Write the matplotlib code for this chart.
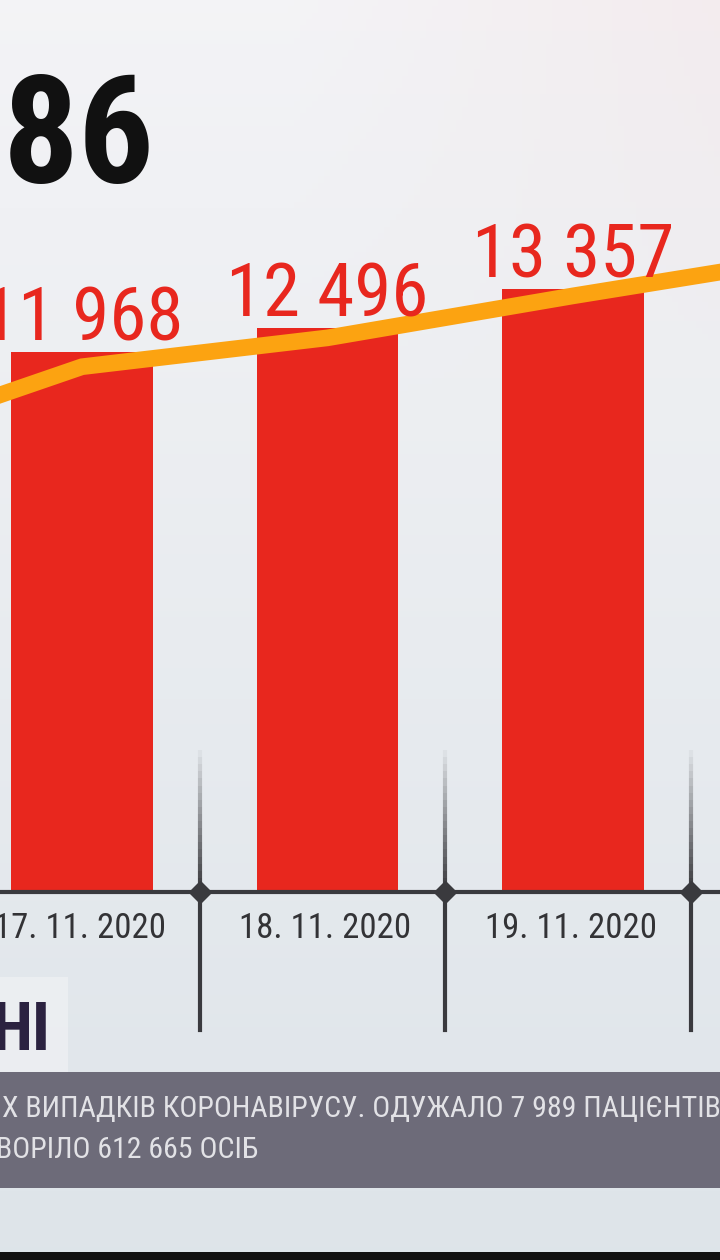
import numpy as np
import matplotlib.pyplot as plt
from matplotlib.patches import Rectangle

# Dados
dates = ['17. 11. 2020', '18. 11. 2020', '19. 11. 2020']
cases = [11968, 12496, 13357]
trend_pos = [-1, 0, 1, 2, 3]
trend = [9770, 11640, 12280, 13210, 14090]
headline = '86'
tag = 'НІ'
ticker1 = 'Х ВИПАДКІВ КОРОНАВІРУСУ. ОДУЖАЛО 7 989 ПАЦІЄНТІВ'
ticker2 = 'ВОРІЛО 612 665 ОСІБ'

cond = ['Roboto Condensed', 'Barlow Semi Condensed', 'DejaVu Sans']
red = '#e8271e'
orange = '#fca311'
dark = '#3a3a3e'

W, H = 720, 1260
fig = plt.figure(figsize=(7.2, 12.6), dpi=100)

# fundo (gradiente suave)
bg = fig.add_axes([0, 0, 1, 1], zorder=0)
gy = np.linspace(0, 1, 200)[:, None]
gx = np.linspace(0, 1, 120)[None, :]
top = np.array([0.955, 0.955, 0.965])
bot = np.array([0.87, 0.895, 0.915])
img = top[None, None, :] * (1 - gy[..., None]) + bot[None, None, :] * gy[..., None]
img = img * np.ones((1, 120, 1))
pink = np.clip((gx - 0.4) * 1.6, 0, 1) * np.clip(1 - gy * 3, 0, 1)
img[..., 1] -= 0.03 * pink
img[..., 2] -= 0.03 * pink
bg.imshow(np.clip(img, 0, 1), extent=[0, W, H, 0], aspect='auto')
bg.set_xlim(0, W)
bg.set_ylim(H, 0)
bg.axis('off')

# gráfico
ax = fig.add_axes([0, 0, 1, 1], zorder=1)
ax.patch.set_alpha(0)
px = 22.16  # casos por pixel
ax.set_xlim(-0.334, 2.599)
ax.set_ylim(-(H - 892) * px, 892 * px)
ax.axis('off')

x = np.arange(len(cases))
ax.bar(x, cases, width=0.578, color=red, zorder=2)
ax.plot(trend_pos, trend, color=orange, lw=12, solid_joinstyle='miter', zorder=3)
for xi, v in zip(x, cases):
    ax.text(xi, v + 11.5 * px, f'{v:,}'.replace(',', ' '), ha='center', va='baseline',
            fontsize=54, color=red, family=cond, zorder=4)
for xi, d in zip(x, dates):
    ax.text(xi - 0.01, -46 * px, d, ha='center', va='baseline', fontsize=25,
            color='#333336', family=cond)

# eixo e divisores
ax.axhline(0, color=dark, lw=3, zorder=2)
for xi in x + 0.48:
    ax.plot([xi, xi], [0, -138 * px], color=dark, lw=3, zorder=2)
    n = 20
    ys = np.linspace(142 * px, 0, n + 1)
    for k in range(n):
        ax.plot([xi, xi], [ys[k], ys[k + 1]], color=dark, lw=3,
                alpha=(k + 1) / n, solid_capstyle='butt', zorder=2)
    ax.plot(xi, 0, marker='D', ms=11, color=dark, zorder=3)

# sobreposições em pixels
ov = fig.add_axes([0, 0, 1, 1], zorder=3)
ov.patch.set_alpha(0)
ov.set_xlim(0, W)
ov.set_ylim(H, 0)
ov.axis('off')

ov.text(155, 183, headline, ha='right', va='baseline', fontsize=108,
        fontweight='bold', color='#111111', family=cond)
ov.add_patch(Rectangle((0, 977), 68, 95, color='#eef0f3', alpha=0.8, lw=0))
ov.text(50, 1050, tag, ha='right', va='baseline', fontsize=48,
        fontweight='bold', color='#2b2240', family=cond)
ov.add_patch(Rectangle((0, 1072), W, 116, color='#6d6b79', lw=0))
ov.text(2, 1117, ticker1, ha='left', va='baseline', fontsize=21.5,
        color='#e2e2e6', family=cond)
ov.text(-4, 1158, ticker2, ha='left', va='baseline', fontsize=21.5,
        color='#e2e2e6', family=cond)
ov.add_patch(Rectangle((0, 1252), W, 8, color='#111111', lw=0))

fig.savefig('out.png', dpi=100)
